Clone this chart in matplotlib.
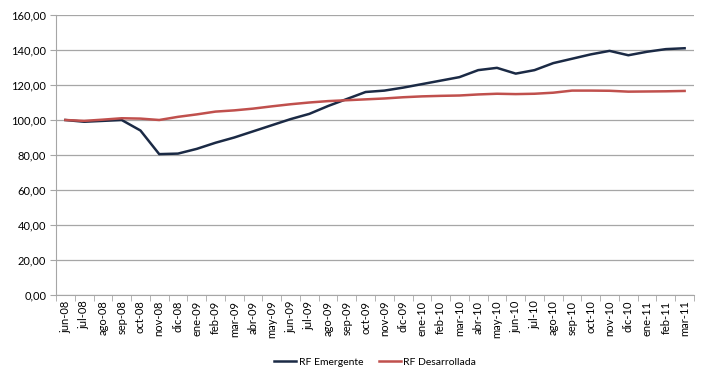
import matplotlib
matplotlib.use('Agg')
import matplotlib.pyplot as plt
import numpy as np

plt.rcParams['font.family'] = ['Lato', 'DejaVu Sans']

meses = ['jun-08', 'jul-08', 'ago-08', 'sep-08', 'oct-08', 'nov-08', 'dic-08',
         'ene-09', 'feb-09', 'mar-09', 'abr-09', 'may-09', 'jun-09', 'jul-09',
         'ago-09', 'sep-09', 'oct-09', 'nov-09', 'dic-09', 'ene-10', 'feb-10',
         'mar-10', 'abr-10', 'may-10', 'jun-10', 'jul-10', 'ago-10', 'sep-10',
         'oct-10', 'nov-10', 'dic-10', 'ene-11', 'feb-11', 'mar-11']

rf_emergente = [100.0, 99.0, 99.5, 100.0, 94.0, 80.5, 80.8, 83.5, 87.0, 90.0,
                93.5, 97.0, 100.5, 103.5, 108.0, 112.0, 116.0, 116.8, 118.5,
                120.5, 122.5, 124.5, 128.5, 129.8, 126.5, 128.5, 132.5, 135.0,
                137.5, 139.5, 137.0, 139.0, 140.5, 141.0]

rf_desarrollada = [100.0, 99.5, 100.2, 101.0, 100.8, 100.0, 101.8, 103.2, 104.8,
                   105.5, 106.5, 107.8, 109.0, 110.0, 110.8, 111.3, 111.8, 112.3,
                   113.0, 113.5, 113.8, 114.0, 114.6, 115.0, 114.8, 115.0, 115.6,
                   116.8, 116.8, 116.7, 116.2, 116.3, 116.4, 116.6]

x = np.arange(len(meses))

fig = plt.figure(figsize=(7.09, 3.80), dpi=100)
ax = fig.add_axes([56 / 709, 85 / 380, 638 / 709, 280 / 380])

ax.plot(x, rf_emergente, color='#1b2a45', lw=1.8, label='RF Emergente')
ax.plot(x, rf_desarrollada, color='#c0504d', lw=1.8, label='RF Desarrollada')

ax.set_xlim(-0.5, len(meses) - 0.5)
ax.set_ylim(0, 160)
ax.set_yticks(np.arange(0, 161, 20))
ax.yaxis.set_major_formatter(matplotlib.ticker.FuncFormatter(lambda v, p: ('%.2f' % v).replace('.', ',')))
ax.grid(axis='y', color='#a6a6a6', lw=0.9)
ax.set_axisbelow(True)

ax.set_xticks(x)
ax.set_xticklabels(meses, rotation=90)
ax.set_xticks(np.arange(-0.5, len(meses), 1), minor=True)
ax.tick_params(axis='x', which='major', length=0, pad=4)
ax.tick_params(axis='x', which='minor', length=4, color='#a6a6a6')
ax.tick_params(axis='y', length=4, color='#a6a6a6', pad=3)
ax.tick_params(labelsize=8)

for s in ['top', 'right']:
    ax.spines[s].set_visible(False)
for s in ['left', 'bottom']:
    ax.spines[s].set_color('#a6a6a6')

ax.legend(loc='center', bbox_to_anchor=(0.5, -0.24), ncol=2, frameon=False,
          fontsize=7.5, handlelength=2.1, handletextpad=0.25, columnspacing=1.5)

plt.savefig('out.png', dpi=100)
